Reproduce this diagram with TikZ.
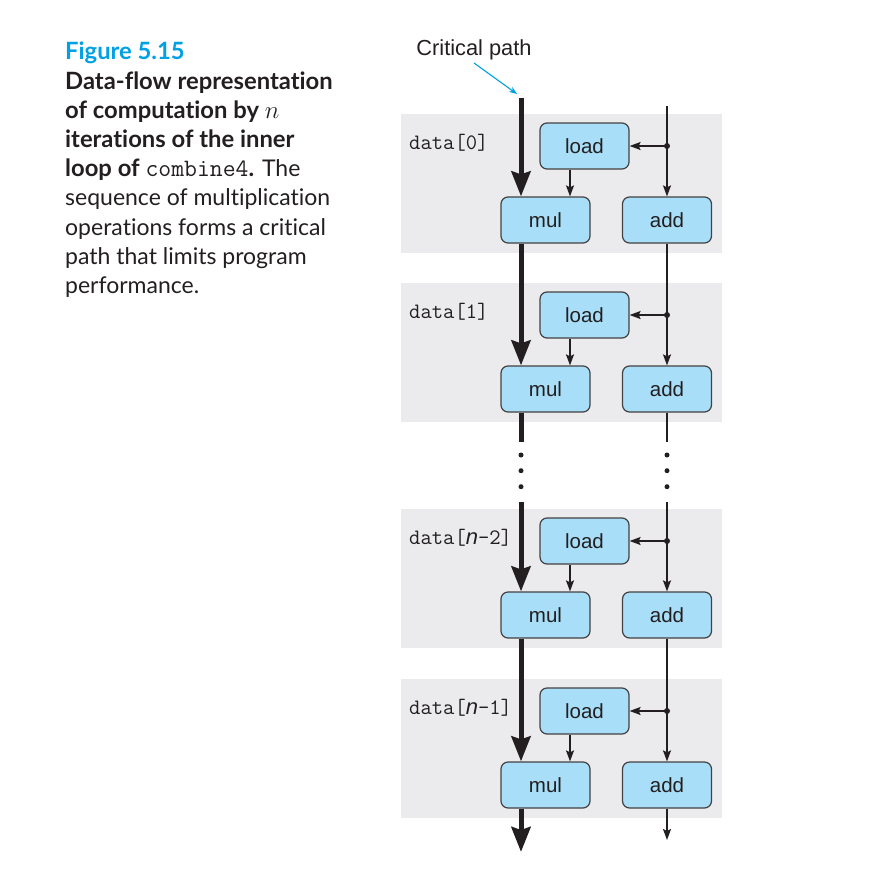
\documentclass[tikz,border=0pt]{standalone}
\usepackage{fontspec}
\setmainfont{Lato}[Ligatures=NoCommon]
\setsansfont{Liberation Sans}
\usetikzlibrary{arrows.meta,calc}
\definecolor{figblue}{RGB}{0,160,228}
\definecolor{panelgray}{RGB}{235,235,237}
\definecolor{boxblue}{RGB}{168,222,248}
\definecolor{ink}{RGB}{35,31,32}
\newcommand{\capbold}[1]{{\fontsize{23.8}{29.2}\selectfont\bfseries #1}}
\begin{document}
\begin{tikzpicture}[x=1pt,y=-1pt,
  opbox/.style={draw=ink!85, line width=1.2pt, fill=boxblue, rounded corners=7pt,
    minimum width=89pt, minimum height=46pt, inner sep=0pt,
    font=\sffamily\fontsize{20.5}{24}\selectfont, text=ink},
  critline/.style={line width=5pt, draw=ink},
  critarr/.style={critline, -{Stealth[length=25pt,width=19pt,inset=3pt]}},
  thinline/.style={line width=1.5pt, draw=ink},
  thinarr/.style={thinline, -{Stealth[length=11pt,width=8pt,inset=2pt]}},
  datalbl/.style={anchor=base west, inner sep=0pt, font=\ttfamily\fontsize{22}{24}\selectfont, text=ink},
  panel/.style={fill=panelgray},
  dotmark/.style={fill=ink}
]
\useasboundingbox (0,0) rectangle (872,892);

% caption
\node[anchor=base west, inner sep=0pt, font=\fontsize{23.8}{29.2}\selectfont\bfseries, text=figblue] (figno) at (65,59) {Figure 5.15};
\node[anchor=base west, inner sep=0pt, align=left, font=\fontsize{23}{29.2}\selectfont, text=ink] (caption) at (65,293.4)
 {\capbold{Data-flow representation}\\
  \capbold{of computation by} {\fontsize{25}{29.2}\selectfont$n$}\\
  \capbold{iterations of the inner}\\
  \capbold{loop of} {\ttfamily\fontsize{25}{29.2}\selectfont combine4}\capbold{.} The\\
  sequence of multiplication\\
  operations forms a critical\\
  path that limits program\\
  performance.};

% critical path label
\node[font=\sffamily\fontsize{21.8}{24}\selectfont, text=ink, inner sep=0pt, anchor=base] (critlbl) at (474,55) {Critical path};
\coordinate (critfrom) at (474,63);
\coordinate (critto) at (517,94);
\draw[figblue, line width=1.1pt, -{Stealth[length=8pt,width=6pt]}] (critfrom) -- (critto);

% panels
\foreach \i/\dy/\lbl in {1/0/{data[0]}, 2/169/{data[1]}, 3/395/{data[{\sffamily\itshape n}–2]}, 4/565/{data[{\sffamily\itshape n}–1]}}{
  \fill[panel] (401,114+\dy) rectangle (722,253+\dy);
  \node[datalbl] (lbl\i) at (409,149+\dy) {\lbl};
  \node[opbox] (load\i) at (584.5,146+\dy) {load};
  \node[opbox] (mul\i) at (545.5,220+\dy) {mul};
  \node[opbox] (add\i) at (667,220+\dy) {add};
  \coordinate (j\i) at (667,146+\dy);
  \draw[thinarr] (j\i) -- (load\i.east);
  \draw[thinarr] ([xshift=-14.5pt]load\i.south) -- ([xshift=-14.5pt]load\i.south |- mul\i.north);
  \draw[thinarr] (j\i) -- (add\i.north);
  \fill[dotmark] (j\i) circle (3pt);
}

% top inputs
\coordinate (ctop) at (521,98);
\coordinate (atop) at (667,106);
\draw[critarr] (ctop) -- (ctop |- mul1.north);
\draw[thinline] (atop) -- (j1);

% panel 1 -> 2
\draw[critarr] (ctop |- mul1.south) -- (ctop |- mul2.north);
\draw[thinline] (add1.south) -- (j2);

% panel 2 -> gap
\coordinate (cgapa) at (521,442);
\coordinate (cgapb) at (521,502);
\coordinate (agapa) at (667,442);
\coordinate (agapb) at (667,502);
\draw[critline] (ctop |- mul2.south) -- (cgapa);
\draw[thinline] (add2.south) -- (agapa);
\foreach \yy in {455,470.7,486.7}{
  \fill[dotmark] (521,\yy) circle (2.5pt);
  \fill[dotmark] (667,\yy) circle (2.5pt);
}
\draw[critarr] (cgapb) -- (ctop |- mul3.north);
\draw[thinline] (agapb) -- (j3);

% panel 3 -> 4
\draw[critarr] (ctop |- mul3.south) -- (ctop |- mul4.north);
\draw[thinline] (add3.south) -- (j4);

% outputs
\coordinate (cend) at (521,852);
\coordinate (aend) at (667,840);
\draw[critarr] (ctop |- mul4.south) -- (cend);
\draw[thinarr] (add4.south) -- (aend);
\end{tikzpicture}
\end{document}
